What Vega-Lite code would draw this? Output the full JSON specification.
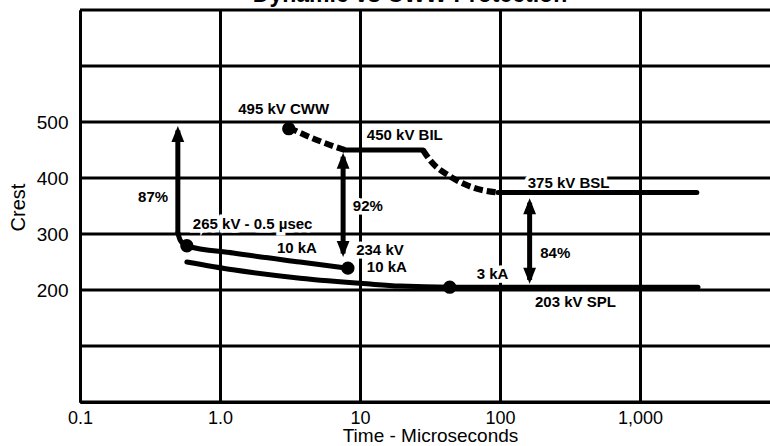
{
  "$schema": "https://vega.github.io/schema/vega-lite/v6.json",
  "width": 690,
  "height": 392,
  "autosize": {"type": "none"},
  "padding": {"left": 80, "top": 10, "right": 0, "bottom": 44},
  "background": "white",
  "view": {"stroke": null},
  "config": {"font": "Liberation Sans"},
  "title": {"text": "Dynamic vs CWW Protection", "fontSize": 23, "fontWeight": "bold", "anchor": "middle", "frame": "group", "baseline": "alphabetic", "offset": -16, "dx": -15, "color": "black"},
  "datasets": {
    "grid": [
      {"v": 0}, {"v": 100}, {"v": 200}, {"v": 300}, {"v": 400}, {"v": 500}, {"v": 600}, {"v": 700}
    ],
    "curves": [
      {"series": "cww", "style": "dash", "x": 3.1, "y": 490},
      {"series": "cww", "style": "dash", "x": 4.39, "y": 473},
      {"series": "cww", "style": "dash", "x": 6.1, "y": 459},
      {"series": "cww", "style": "dash", "x": 7.8, "y": 450},
      {"series": "bil", "style": "solid", "x": 7.8, "y": 450},
      {"series": "bil", "style": "solid", "x": 28.2, "y": 450},
      {"series": "dash2", "style": "dash", "x": 28.2, "y": 450},
      {"series": "dash2", "style": "dash", "x": 31.6, "y": 432},
      {"series": "dash2", "style": "dash", "x": 43.9, "y": 403},
      {"series": "dash2", "style": "dash", "x": 64.2, "y": 383},
      {"series": "dash2", "style": "dash", "x": 96.8, "y": 374},
      {"series": "bsl", "style": "solid", "x": 96.8, "y": 374},
      {"series": "bsl", "style": "solid", "x": 2550, "y": 374},
      {"series": "upper", "style": "solid", "x": 0.5, "y": 302},
      {"series": "upper", "style": "solid", "x": 0.52, "y": 289},
      {"series": "upper", "style": "solid", "x": 0.58, "y": 279},
      {"series": "upper", "style": "solid", "x": 1.24, "y": 266},
      {"series": "upper", "style": "solid", "x": 3.73, "y": 250},
      {"series": "upper", "style": "solid", "x": 8.2, "y": 239},
      {"series": "spl", "style": "solid", "x": 0.58, "y": 250},
      {"series": "spl", "style": "solid", "x": 1.24, "y": 236},
      {"series": "spl", "style": "solid", "x": 3.73, "y": 221},
      {"series": "spl", "style": "solid", "x": 11.2, "y": 211},
      {"series": "spl", "style": "solid", "x": 19.3, "y": 207},
      {"series": "spl", "style": "solid", "x": 43.8, "y": 205},
      {"series": "spl", "style": "solid", "x": 2600, "y": 205}
    ],
    "dots": [
      {"x": 3.1, "y": 488},
      {"x": 0.58, "y": 279},
      {"x": 8.2, "y": 239},
      {"x": 43.8, "y": 205}
    ],
    "shafts": [
      {"name": "87%", "x": 0.5, "y": 300, "y2": 485},
      {"name": "92%", "x": 7.58, "y": 265, "y2": 438},
      {"name": "84%", "x": 163, "y": 218, "y2": 356}
    ],
    "headsUp": [
      {"x": 0.5, "y": 493},
      {"x": 7.58, "y": 445},
      {"x": 163, "y": 364}
    ],
    "headsDown": [
      {"x": 7.58, "y": 259},
      {"x": 163, "y": 211}
    ],
    "labels": [
      {"x": 1.35, "y": 523, "text": "495 kV CWW"},
      {"x": 11.2, "y": 477, "text": "450 kV BIL"},
      {"x": 158, "y": 391, "text": "375 kV BSL"},
      {"x": 0.64, "y": 318, "text": "265 kV - 0.5 µsec"},
      {"x": 2.55, "y": 275, "text": "10 kA"},
      {"x": 9.4, "y": 271, "text": "234 kV"},
      {"x": 11.2, "y": 241, "text": "10 kA"},
      {"x": 68.3, "y": 229, "text": "3 kA"},
      {"x": 194, "y": 266, "text": "84%"},
      {"x": 178, "y": 179, "text": "203 kV SPL"},
      {"x": 0.26, "y": 366, "text": "87%"},
      {"x": 8.9, "y": 350, "text": "92%"}
    ]
  },
  "layer": [
    {
      "data": {"name": "grid"},
      "mark": {"type": "rule", "color": "black", "strokeWidth": 3},
      "encoding": {
        "y": {"field": "v", "type": "quantitative", "scale": {"domain": [0, 700], "nice": false, "zero": false},
          "axis": {"values": [200, 300, 400, 500],
            "grid": false, "ticks": false, "tickSize": 0, "domain": true, "domainColor": "black", "domainWidth": 3,
            "labelFontSize": 19, "labelColor": "black", "labelBaseline": "middle", "labelPadding": 12,
            "labelOverlap": false, "labelFlush": false,
            "title": "Crest", "titleFontSize": 20, "titleFontWeight": "normal", "titleColor": "black",
            "titleX": -62, "titleY": 197, "titleAlign": "center", "titleBaseline": "middle", "titleAngle": -90}}
      }
    },
    {
      "data": {"name": "labels"},
      "mark": {"type": "text", "align": "left", "baseline": "middle", "fontSize": 15, "fontWeight": "bold", "color": "white", "stroke": "white", "strokeWidth": 7},
      "encoding": {
        "x": {"field": "x", "type": "quantitative", "scale": {"type": "log", "domain": [0.1, 8500], "nice": false},
          "axis": {"values": [0.1, 1, 10, 100, 1000],
            "labelExpr": "datum.value < 0.5 ? '0.1' : datum.value < 5 ? '1.0' : datum.value < 50 ? '10' : datum.value < 500 ? '100' : '1,000'",
            "grid": true, "gridColor": "black", "gridWidth": 3, "gridOpacity": 1,
            "ticks": false, "tickSize": 0, "domain": true, "domainColor": "black", "domainWidth": 3,
            "labelFontSize": 18, "labelColor": "black", "labelBaseline": "alphabetic", "labelPadding": 21,
            "labelFlush": false, "labelOverlap": false,
            "title": "Time - Microseconds", "titleFontSize": 19, "titleFontWeight": "normal", "titleColor": "black",
            "titleBaseline": "alphabetic", "titleY": 39, "titleX": 350, "titleAlign": "center"}},
        "y": {"field": "y", "type": "quantitative", "scale": {"domain": [0, 700], "nice": false, "zero": false}},
        "text": {"field": "text"}
      }
    },
    {
      "data": {"name": "curves"},
      "transform": [{"filter": "datum.style == 'solid'"}],
      "mark": {"type": "line", "color": "black", "strokeWidth": 5, "interpolate": "monotone", "strokeCap": "round"},
      "encoding": {
        "x": {"field": "x", "type": "quantitative", "scale": {"type": "log", "domain": [0.1, 8500], "nice": false}},
        "y": {"field": "y", "type": "quantitative", "scale": {"domain": [0, 700], "nice": false, "zero": false}},
        "detail": {"field": "series"}
      }
    },
    {
      "data": {"name": "curves"},
      "transform": [{"filter": "datum.style == 'dash'"}],
      "mark": {"type": "line", "color": "black", "strokeWidth": 6, "interpolate": "monotone", "strokeDash": [9, 4]},
      "encoding": {
        "x": {"field": "x", "type": "quantitative", "scale": {"type": "log", "domain": [0.1, 8500], "nice": false}},
        "y": {"field": "y", "type": "quantitative", "scale": {"domain": [0, 700], "nice": false, "zero": false}},
        "detail": {"field": "series"}
      }
    },
    {
      "data": {"name": "shafts"},
      "mark": {"type": "rule", "color": "black", "strokeWidth": 5},
      "encoding": {
        "x": {"field": "x", "type": "quantitative", "scale": {"type": "log", "domain": [0.1, 8500], "nice": false}},
        "y": {"field": "y", "type": "quantitative", "scale": {"domain": [0, 700], "nice": false, "zero": false}},
        "y2": {"field": "y2"}
      }
    },
    {
      "data": {"name": "headsUp"},
      "mark": {"type": "point", "shape": "M0,0L-0.8,2L0.8,2Z", "size": 256, "filled": true, "color": "black", "opacity": 1},
      "encoding": {
        "x": {"field": "x", "type": "quantitative", "scale": {"type": "log", "domain": [0.1, 8500], "nice": false}},
        "y": {"field": "y", "type": "quantitative", "scale": {"domain": [0, 700], "nice": false, "zero": false}}
      }
    },
    {
      "data": {"name": "headsDown"},
      "mark": {"type": "point", "shape": "M0,0L-0.8,-2L0.8,-2Z", "size": 256, "filled": true, "color": "black", "opacity": 1},
      "encoding": {
        "x": {"field": "x", "type": "quantitative", "scale": {"type": "log", "domain": [0.1, 8500], "nice": false}},
        "y": {"field": "y", "type": "quantitative", "scale": {"domain": [0, 700], "nice": false, "zero": false}}
      }
    },
    {
      "data": {"name": "dots"},
      "mark": {"type": "circle", "size": 177, "color": "black", "opacity": 1},
      "encoding": {
        "x": {"field": "x", "type": "quantitative", "scale": {"type": "log", "domain": [0.1, 8500], "nice": false}},
        "y": {"field": "y", "type": "quantitative", "scale": {"domain": [0, 700], "nice": false, "zero": false}}
      }
    },
    {
      "data": {"name": "labels"},
      "mark": {"type": "text", "align": "left", "baseline": "middle", "fontSize": 15, "fontWeight": "bold", "color": "black"},
      "encoding": {
        "x": {"field": "x", "type": "quantitative", "scale": {"type": "log", "domain": [0.1, 8500], "nice": false}},
        "y": {"field": "y", "type": "quantitative", "scale": {"domain": [0, 700], "nice": false, "zero": false}},
        "text": {"field": "text"}
      }
    }
  ]
}
